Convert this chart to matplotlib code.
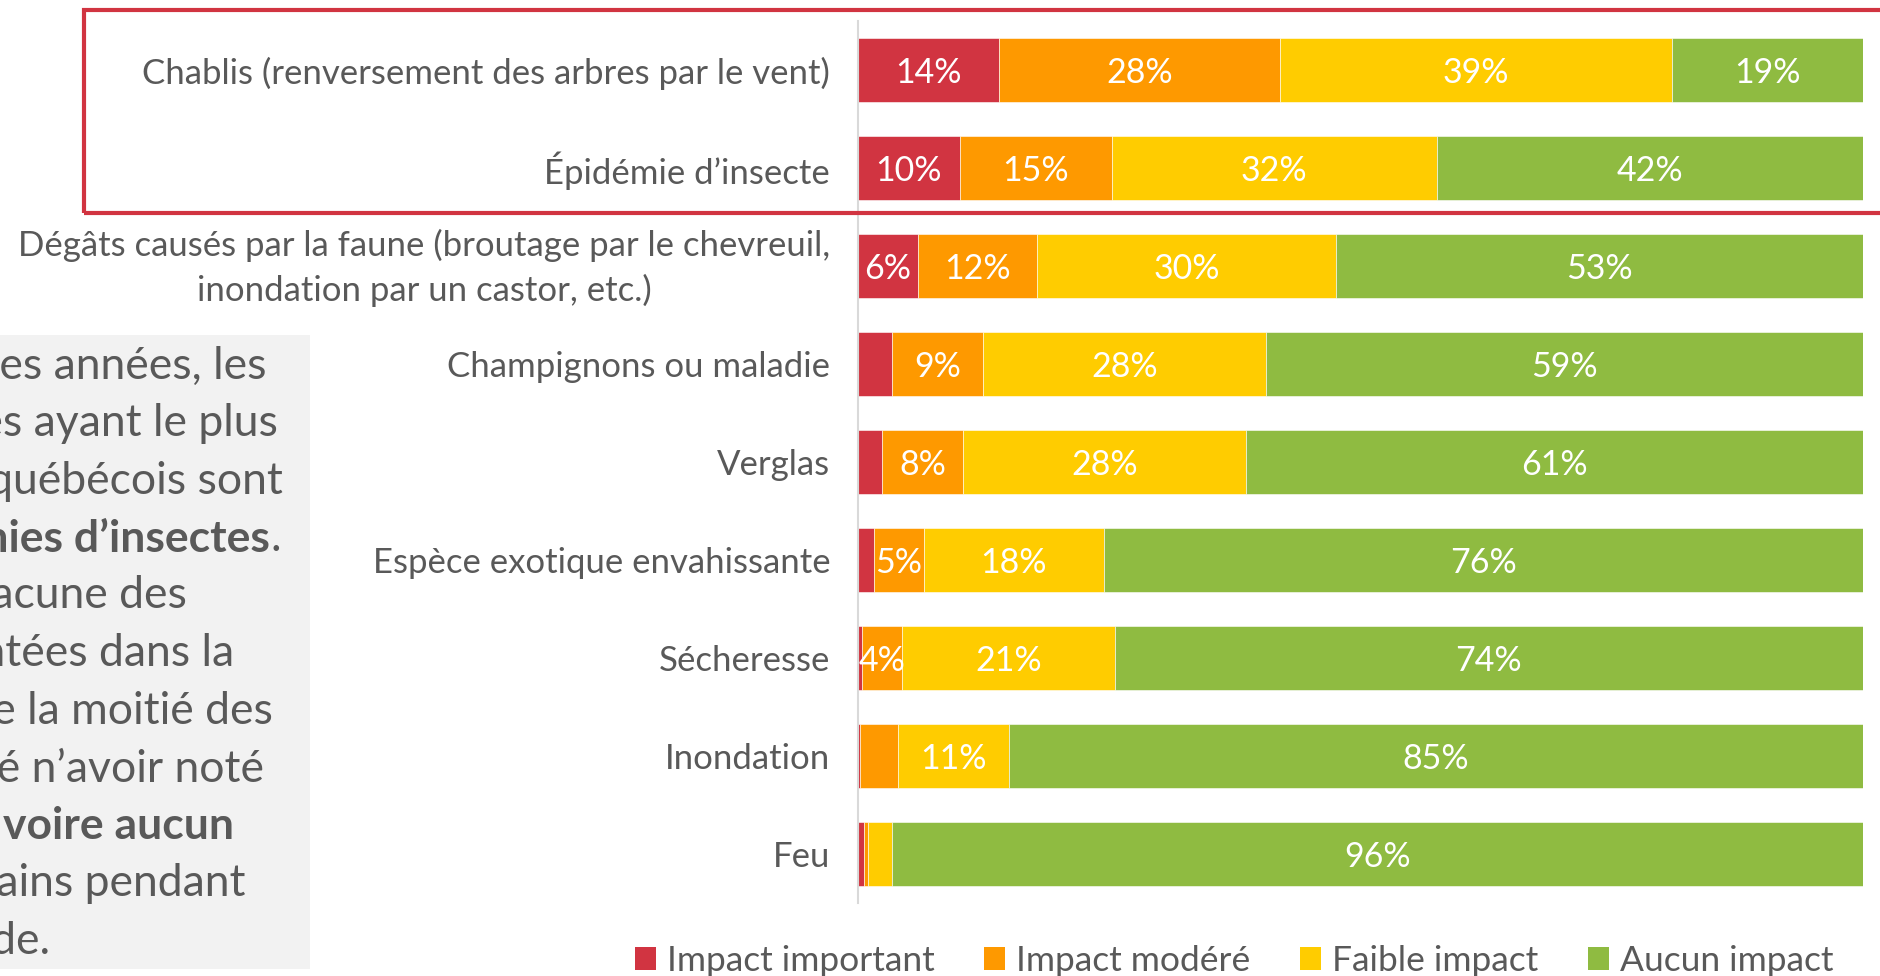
import matplotlib
matplotlib.use("Agg")
import matplotlib.pyplot as plt
from matplotlib.patches import Rectangle, Patch
from matplotlib.transforms import ScaledTranslation
import numpy as np

# ---------------- data ----------------
categories = [
    "Chablis (renversement des arbres par le vent)",
    "Épidémie d’insecte",
    "Dégâts causés par la faune (broutage par le chevreuil,\ninondation par un castor, etc.)",
    "Champignons ou maladie",
    "Verglas",
    "Espèce exotique envahissante",
    "Sécheresse",
    "Inondation",
    "Feu",
]
impact_important = [14, 10, 6, 3.4, 2.4, 1.6, 0.4, 0.2, 0.6]
impact_modere = [28, 15, 12, 9, 8, 5, 4, 3.8, 0.4]
faible_impact = [39, 32, 30, 28, 28, 18, 21, 11, 2.4]
aucun_impact = [19, 42, 53, 59, 61, 76, 74, 85, 96]
series_names = ["Impact important", "Impact modéré", "Faible impact", "Aucun impact"]

box_lines = [
    ("Au cours des dernières années, les", None),
    ("perturbations naturelles ayant le plus", None),
    ("affecté les boisés québécois sont", None),
    ("les ", "épidémies d’insectes", "."),
    ("Pour chacune des", None),
    ("perturbations présentées dans la", None),
    ("liste, plus de la moitié des", None),
    ("propriétaires ont déclaré n’avoir noté", None),
    ("qu’un ", "faible, voire aucun", ""),
    ("impact sur leurs terrains pendant", None),
    ("cette période.", None),
]
box_line_ends = [266, 278, 283, 281, 187, 234, 273, 264, 234, 245, 50]

# ---------------- style ----------------
colors = ["#D13441", "#FE9900", "#FFCC00", "#8FBB41"]
text_color = "#595959"
FONT = ["Lato", "DejaVu Sans"]
plt.rcParams["font.family"] = FONT

W, H = 1880, 976
fig = plt.figure(figsize=(W / 100, H / 100), dpi=100)

ax_left, ax_right = 858, 1863
ax_top, ax_bot = 21, 903
ax = fig.add_axes([ax_left / W, 1 - ax_bot / H, (ax_right - ax_left) / W, (ax_bot - ax_top) / H])

data = np.array([impact_important, impact_modere, faible_impact, aucun_impact], dtype=float)
totals = data.sum(axis=0)
pct = data / totals * 100
y = np.arange(len(categories))
left = np.zeros(len(categories))
for s in range(4):
    ax.barh(y, pct[s], left=left, height=0.65, color=colors[s],
            edgecolor="white", linewidth=0.4, label=series_names[s])
    for i in range(len(categories)):
        v = data[s, i]
        if v >= 4:
            ax.text(left[i] + pct[s, i] / 2, y[i], f"{v:.0f}%", ha="center",
                    va="center_baseline", color="white", fontsize=24.5)
    left += pct[s]

ax.set_xlim(0, 100)
ax.set_ylim(len(categories) - 0.5, -0.5)
ax.set_yticks(y)
ax.set_yticklabels(categories, fontsize=25, color=text_color)
ax.tick_params(axis="y", length=0, pad=20)
for lbl in ax.get_yticklabels():
    lbl.set_multialignment("center")
    lbl.set_linespacing(1.45)
    if "\n" in lbl.get_text():
        lbl.set_transform(lbl.get_transform() + ScaledTranslation(0, 5 / 72, fig.dpi_scale_trans))
ax.set_xticks([])
for sp in ["top", "right", "bottom"]:
    ax.spines[sp].set_visible(False)
ax.spines["left"].set_color("#D9D9D9")
ax.spines["left"].set_linewidth(1.5)

# legend
handles = [Patch(facecolor=c, label=n) for c, n in zip(colors, series_names)]
fig.legend(handles=handles, loc="center", bbox_to_anchor=(1234 / W, 1 - 961 / H), ncol=4,
           frameon=False, fontsize=25.5, handlelength=0.6, handleheight=0.6,
           handletextpad=0.3, columnspacing=1.4, labelcolor=text_color, borderpad=0)

# red highlight rectangle
fig.add_artist(Rectangle((84 / W, 1 - 213 / H), 1.0, (213 - 10) / H, transform=fig.transFigure,
                         fill=False, edgecolor="#D13441", linewidth=3))

# grey text box on the left
fig.add_artist(Rectangle((0, 1 - 969 / H), 310 / W, (969 - 335) / H, transform=fig.transFigure,
                         facecolor="#F2F2F2", edgecolor="none", zorder=0))
renderer = fig.canvas.get_renderer()
box_fs = 32
for k, (entry, xe) in enumerate(zip(box_lines, box_line_ends)):
    yy = 1 - (366 + k * 57.5) / H
    if entry[1] is None:
        fig.text(xe / W, yy, entry[0], ha="right", va="center", fontsize=box_fs, color=text_color)
    else:
        pre, bold, post = entry
        x = xe / W
        if post:
            t = fig.text(x, yy, post, ha="right", va="center", fontsize=box_fs, color=text_color)
            x = t.get_window_extent(renderer).x0 / W
        t = fig.text(x, yy, bold, ha="right", va="center", fontsize=box_fs, color=text_color,
                     fontweight="bold")
        x = t.get_window_extent(renderer).x0 / W
        fig.text(x, yy, pre, ha="right", va="center", fontsize=box_fs, color=text_color)

fig.savefig("out.png", dpi=100)
